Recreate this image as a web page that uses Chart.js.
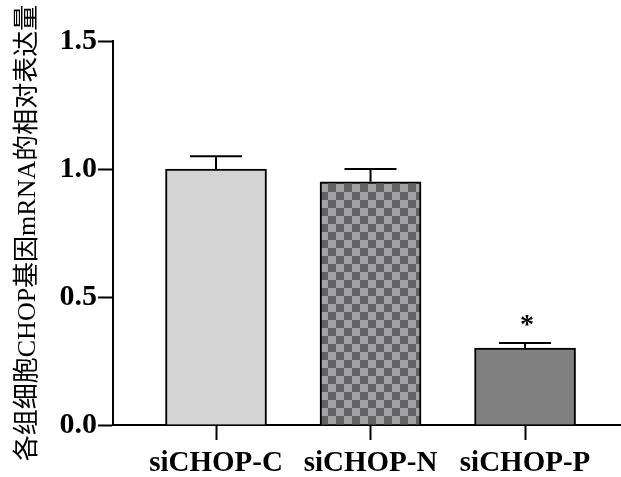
<!DOCTYPE html>
<html>
<head>
<meta charset="utf-8">
<script src="https://cdn.jsdelivr.net/npm/chart.js@4.4.0/dist/chart.umd.min.js"></script>
<style>
  html, body { margin: 0; padding: 0; background: #fff; }
  #wrap { width: 621px; height: 477px; position: relative; }
</style>
</head>
<body>
<div id="wrap"><canvas id="chart"></canvas></div>
<script>
// data
const groups = ['siCHOP-C', 'siCHOP-N', 'siCHOP-P'];
const means = [1.0, 0.95, 0.30];
const errors = [0.05, 0.05, 0.02];
const marks = ['', '', '*'];
const yTicks = [0, 0.5, 1.0, 1.5];
const yTitle = '各组细胞CHOP基因mRNA的相对表达量';

const serif = '"Liberation Serif", "Times New Roman", serif';

// checkerboard fill for the middle bar
function makeChecker() {
    const c = document.createElement('canvas');
    c.width = 16;
    c.height = 16;
    const g = c.getContext('2d');
    g.fillStyle = '#a2a2a4';
    g.fillRect(0, 0, 16, 16);
    g.fillStyle = '#626264';
    g.fillRect(0, 0, 8, 8);
    g.fillRect(8, 8, 8, 8);
    return g.createPattern(c, 'repeat');
}

const errorBars = {
    id: 'errorBars',
    afterDatasetsDraw(chart) {
        const ctx = chart.ctx;
        const meta = chart.getDatasetMeta(0);
        const y = chart.scales.y;
        ctx.save();
        ctx.strokeStyle = '#000';
        ctx.lineWidth = 2;
        meta.data.forEach((bar, i) => {
            const top = y.getPixelForValue(means[i] + errors[i]);
            ctx.beginPath();
            ctx.moveTo(bar.x, bar.y);
            ctx.lineTo(bar.x, top);
            ctx.moveTo(bar.x - 26, top);
            ctx.lineTo(bar.x + 26, top);
            ctx.stroke();
            if (marks[i]) {
                ctx.fillStyle = '#000';
                ctx.font = 'bold 28px ' + serif;
                ctx.textAlign = 'center';
                ctx.textBaseline = 'alphabetic';
                ctx.fillText(marks[i], bar.x + 2, top - 10);
            }
        });
        ctx.restore();
    }
};

new Chart(document.getElementById('chart'), {
    type: 'bar',
    data: {
        datasets: [{
            data: means.map((m, i) => ({ x: i + 1, y: m })),
            backgroundColor: ['#d4d4d4', makeChecker(), '#808080'],
            borderColor: '#000',
            borderWidth: 2,
            borderSkipped: 'bottom',
            barThickness: 101
        }]
    },
    options: {
        responsive: true,
        maintainAspectRatio: false,
        animation: false,
        layout: { padding: { top: 41, right: 0, left: 0, bottom: 0 } },
        plugins: {
            legend: { display: false },
            tooltip: { enabled: false }
        },
        scales: {
            x: {
                type: 'linear',
                offset: false,
                min: 1 / 3,
                max: 3.621,
                afterBuildTicks: s => { s.ticks = groups.map((g, i) => ({ value: i + 1 })); },
                ticks: {
                    callback: v => groups[v - 1] || '',
                    color: '#000',
                    font: { family: serif, size: 29, weight: 'bold' },
                    padding: 6,
                    maxRotation: 0,
                    autoSkip: false
                },
                grid: {
                    offset: false,
                    drawOnChartArea: false,
                    tickLength: 15,
                    tickColor: '#000',
                    tickWidth: 2
                },
                border: { color: '#000', width: 2 },
                afterFit: s => { s.height = 52; }
            },
            y: {
                min: 0,
                max: 1.5,
                afterBuildTicks: s => { s.ticks = yTicks.map(v => ({ value: v })); },
                ticks: {
                    callback: v => v.toFixed(1),
                    color: '#000',
                    font: { family: serif, size: 30, weight: 'bold' },
                    padding: 1
                },
                grid: {
                    drawOnChartArea: false,
                    tickLength: 15,
                    tickColor: '#000',
                    tickWidth: 2
                },
                border: { color: '#000', width: 2 },
                title: {
                    display: true,
                    text: yTitle,
                    color: '#000',
                    font: { family: serif + ', "Noto Sans CJK SC"', size: 26, weight: 'normal' },
                    padding: { top: 13, bottom: 0 }
                },
                afterFit: s => { s.width = 113; }
            }
        }
    },
    plugins: [errorBars]
});
</script>
</body>
</html>
